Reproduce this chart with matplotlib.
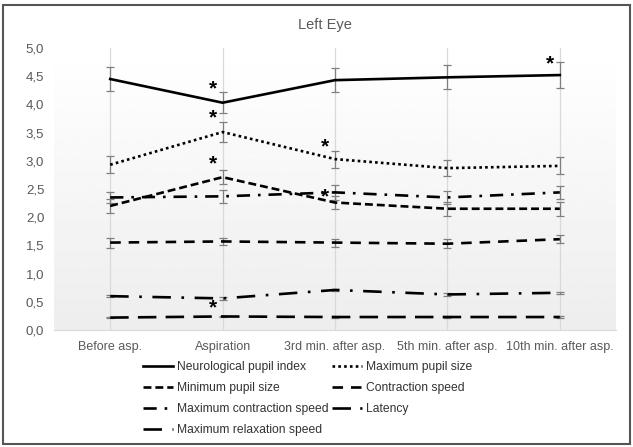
import numpy as np
import matplotlib
matplotlib.use('Agg')
import matplotlib.pyplot as plt
from matplotlib.patches import Rectangle

plt.rcParams['font.family'] = ['Liberation Sans', 'DejaVu Sans']

# Данные
categories = ['Before asp.', 'Aspiration', '3rd min. after asp.',
              '5th min. after asp.', '10th min. after asp.']

npi = [4.45, 4.03, 4.43, 4.48, 4.52]
npi_err = [0.22, 0.19, 0.21, 0.21, 0.23]
max_pupil = [2.93, 3.51, 3.03, 2.87, 2.91]
max_pupil_err = [0.15, 0.17, 0.15, 0.14, 0.15]
min_pupil = [2.20, 2.71, 2.26, 2.15, 2.15]
min_pupil_err = [0.13, 0.13, 0.12, 0.12, 0.12]
contr_speed = [1.55, 1.57, 1.55, 1.53, 1.61]
contr_speed_err = [0.09, 0.07, 0.07, 0.08, 0.07]
max_contr = [2.35, 2.37, 2.44, 2.35, 2.44]
max_contr_err = [0.10, 0.11, 0.13, 0.12, 0.12]
latency = [0.22, 0.24, 0.23, 0.23, 0.23]
latency_err = [0.01, 0.01, 0.01, 0.01, 0.01]
max_relax = [0.60, 0.56, 0.71, 0.63, 0.66]
max_relax_err = [0.02, 0.03, 0.02, 0.02, 0.02]

# звёздочки значимости: (индекс категории, уровень)
star_idx = [1, 1, 1, 1, 2, 2, 4]
star_y = [4.27, 3.76, 2.94, 0.39, 3.24, 2.36, 4.72]

series = [
    ('Neurological pupil index', npi, npi_err, '-'),
    ('Maximum pupil size', max_pupil, max_pupil_err, (0, (1, 1.2))),
    ('Minimum pupil size', min_pupil, min_pupil_err, (0, (3, 1.5))),
    ('Contraction speed', contr_speed, contr_speed_err, (0, (4, 3))),
    ('Maximum contraction speed', max_contr, max_contr_err, (0, (5, 3, 1, 3))),
    ('Latency', latency, latency_err, (0, (7, 3.5))),
    ('Maximum relaxation speed', max_relax, max_relax_err, (0, (7, 4, 1, 4))),
]

fig = plt.figure(figsize=(6.33, 4.47), dpi=100)
ax = fig.add_axes([54 / 633, 1 - 330 / 447, 562 / 633, 282 / 447])

# лёгкий градиент фона области построения
grad = np.linspace(1.0, 0.93, 256).reshape(-1, 1)
ax.imshow(grad, extent=[0, 1, 0, 1], transform=ax.transAxes, cmap='gray',
          vmin=0, vmax=1, aspect='auto', zorder=0)

x = np.arange(len(categories))
for xi in x:
    ax.axvline(xi, color='#d9d9d9', lw=0.9, zorder=1)

handles = {}
for name, vals, err, ls in series:
    ax.errorbar(x, vals, yerr=err, fmt='none', ecolor='#7f7f7f',
                elinewidth=0.9, capsize=3, capthick=0.9, zorder=2)
    line, = ax.plot(x, vals, color='black', lw=1.9, linestyle=ls,
                    label=name, zorder=3)
    handles[name] = line

for i, yv in zip(star_idx, star_y):
    ax.text(i - 0.09, yv, '*', fontsize=15, fontweight='bold',
            ha='center', va='center', zorder=4)

ax.set_xlim(-0.5, len(categories) - 0.5)
ax.set_ylim(0, 5)
ax.set_yticks(np.arange(0, 5.01, 0.5))
ax.set_yticklabels([f'{v:.1f}'.replace('.', ',') for v in np.arange(0, 5.01, 0.5)])
ax.set_xticks(x)
ax.set_xticklabels(categories)
ax.tick_params(axis='both', length=0, colors='#595959')
ax.tick_params(axis='x', pad=8, labelsize=9)
ax.tick_params(axis='y', pad=7, labelsize=9.5)
for s in ['top', 'right', 'left']:
    ax.spines[s].set_visible(False)
ax.spines['bottom'].set_color('#d9d9d9')

fig.text(325 / 633, 1 - 25 / 447, 'Left Eye', ha='center', va='center',
         fontsize=10.5, color='#595959')

order = ['Neurological pupil index', 'Minimum pupil size',
         'Maximum contraction speed', 'Maximum relaxation speed',
         'Maximum pupil size', 'Contraction speed', 'Latency']
fig.legend([handles[n] for n in order], order, ncol=2, frameon=False,
           loc='upper left', bbox_to_anchor=(143 / 633, 1 - 361 / 447),
           fontsize=8.7, handlelength=2.5, handletextpad=0.3,
           columnspacing=0.3, labelspacing=0.75, borderpad=0,
           borderaxespad=0, labelcolor='#333333')

fig.add_artist(Rectangle((3 / 633, 3 / 447), 627 / 633, 439 / 447,
                         transform=fig.transFigure, fill=False,
                         edgecolor='#555555', lw=1.5))

fig.savefig('out.png', dpi=100)
